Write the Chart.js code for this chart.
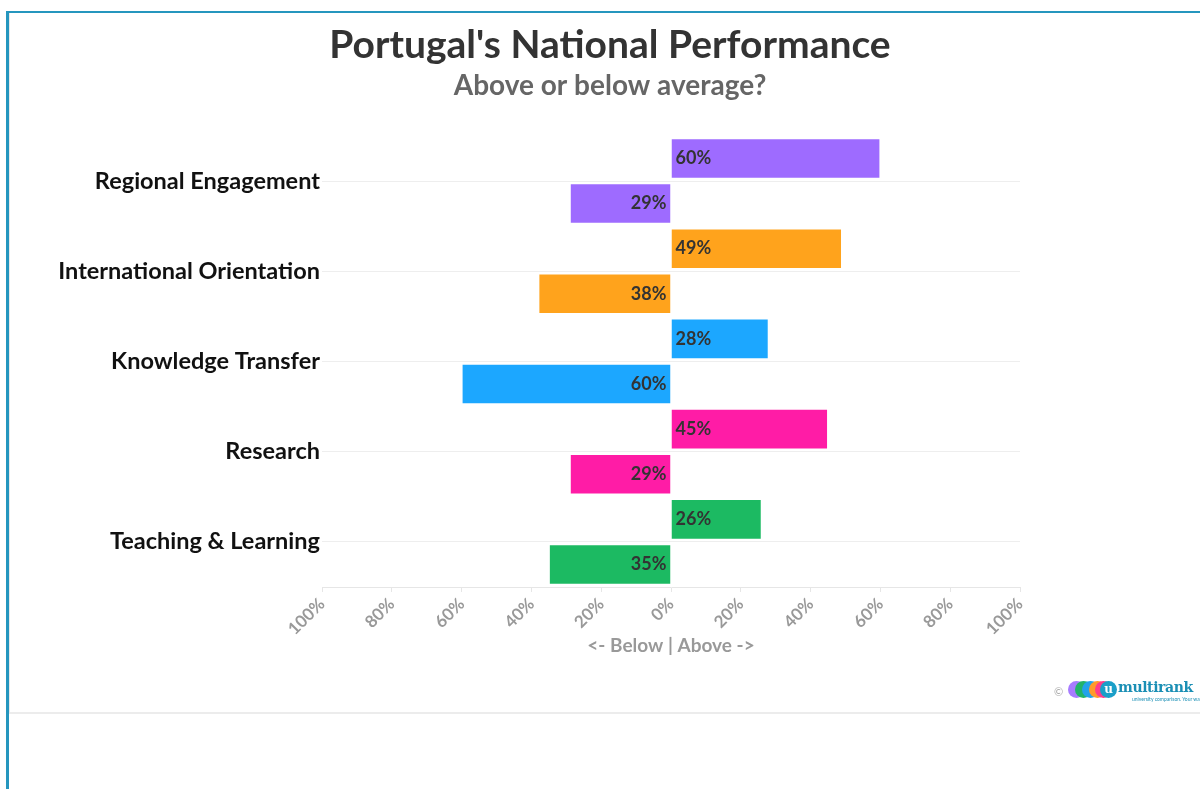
<!DOCTYPE html>
<html>
<head>
<meta charset="utf-8">
<script src="https://cdn.jsdelivr.net/npm/chart.js@4"></script>
<style>
    html, body { margin: 0; padding: 0; background: #fff; overflow: hidden; }
    body { width: 1200px; height: 789px; position: relative; font-family: Lato, sans-serif; }
    .frame {
        position: absolute; left: 6px; top: 11px; width: 1300px; height: 800px;
        border-left: 3px solid #2596be; border-top: 2px solid #2596be;
    }
    .inner {
        position: absolute; left: 9px; top: 13px; width: 1300px; height: 699px;
        border-left: 1px solid #e8e8e8; border-bottom: 2px solid #ececec;
    }
    .chart-box { position: absolute; left: 10px; top: 13px; width: 1200px; height: 700px; }
    .logo { position: absolute; left: 1054px; top: 679px; height: 22px; width: 150px; }
    .logo .copy { position: absolute; left: 0; top: 6px; font-size: 11px; color: #aaa; }
    .logo .dot { position: absolute; top: 2px; width: 17px; height: 17px; border-radius: 50%; }
    .logo .word {
        position: absolute; left: 64px; top: 0px; font-family: "DejaVu Serif", serif;
        font-weight: bold; font-size: 14px; color: #1b8fb5; letter-spacing: -0.4px;
    }
    .logo .tag { position: absolute; left: 78px; top: 17px; font-size: 5px; color: #1b8fb5; white-space: nowrap; }
</style>
</head>
<body>
<div class="frame"></div>
<div class="inner"></div>
<div class="chart-box"><canvas id="bars"></canvas></div>
<div class="logo">
    <span class="copy">©</span>
    <span class="dot" style="left:14px;background:#a77bff"></span>
    <span class="dot" style="left:21px;background:#22b36a"></span>
    <span class="dot" style="left:28px;background:#22a2ea"></span>
    <span class="dot" style="left:35px;background:#ff9a2a"></span>
    <span class="dot" style="left:41px;background:#ff3d8a"></span>
    <span class="dot" style="left:46px;background:#1b9fc8;color:#fff;font:bold 12px 'DejaVu Serif';text-align:center;line-height:17px">u</span>
    <span class="word">multirank</span>
    <span class="tag">university comparison. Your way.</span>
</div>
<script>
    "use strict";

    const categories = [
        "Regional Engagement",
        "International Orientation",
        "Knowledge Transfer",
        "Research",
        "Teaching & Learning",
    ];
    const aboveValues = [60, 49, 28, 45, 26];
    const belowValues = [-29, -38, -60, -29, -35];
    const barColors = ["#9e6bff", "#ffa31c", "#1ca7ff", "#ff1ca6", "#1cba62"];
    const xTicks = [-100, -80, -60, -40, -20, 0, 20, 40, 60, 80, 100];

    Chart.defaults.font.family = "Lato, 'Noto Sans', sans-serif";

    // labels drawn at the base of each bar
    const baseLabels = {
        id: "baseLabels",
        afterDatasetsDraw(chart) {
            const ctx = chart.ctx;
            ctx.save();
            ctx.font = "bold 18px Lato, sans-serif";
            ctx.fillStyle = "#333333";
            ctx.textBaseline = "middle";
            chart.data.datasets.forEach((ds, i) => {
                chart.getDatasetMeta(i).data.forEach((bar, j) => {
                    const v = ds.data[j];
                    const text = Math.abs(v) + "%";
                    if (v >= 0) {
                        ctx.textAlign = "left";
                        ctx.fillText(text, bar.base + 4, bar.y);
                    } else {
                        ctx.textAlign = "right";
                        ctx.fillText(text, bar.base - 4, bar.y);
                    }
                });
            });
            ctx.restore();
        },
    };

    new Chart(document.getElementById("bars"), {
        type: "bar",
        data: {
            labels: categories,
            datasets: [
                {
                    label: "Above",
                    data: aboveValues,
                    backgroundColor: barColors,
                    borderColor: "rgba(255,255,255,0.3)",
                    borderWidth: 1,
                },
                {
                    label: "Below",
                    data: belowValues,
                    backgroundColor: barColors,
                    borderColor: "rgba(255,255,255,0.3)",
                    borderWidth: 1,
                },
            ],
        },
        options: {
            indexAxis: "y",
            responsive: true,
            maintainAspectRatio: false,
            animation: false,
            datasets: {
                bar: {
                    barPercentage: 0.9,
                    categoryPercentage: 1,
                },
            },
            layout: {
                padding: { left: 0, right: 0, bottom: 56, top: 0 },
            },
            plugins: {
                legend: { display: false },
                tooltip: { enabled: false },
                title: {
                    display: true,
                    text: "Portugal's National Performance",
                    color: "#333333",
                    font: { size: 39, weight: "bold" },
                    padding: { top: 9, bottom: 0 },
                },
                subtitle: {
                    display: true,
                    text: "Above or below average?",
                    color: "#666666",
                    font: { size: 28, weight: "bold" },
                    padding: { top: 0, bottom: 33.5 },
                },
            },
            scales: {
                x: {
                    min: -100,
                    max: 100,
                    afterBuildTicks: (scale) => {
                        scale.ticks = xTicks.map((v) => ({ value: v }));
                    },
                    ticks: {
                        color: "#999999",
                        font: { size: 17, weight: "bold" },
                        minRotation: 45,
                        maxRotation: 45,
                        padding: 2,
                        callback: (v) => Math.abs(v) + "%",
                    },
                    grid: {
                        drawOnChartArea: false,
                        drawTicks: true,
                        tickLength: 5,
                        color: "#e6e6e6",
                    },
                    border: { display: true, color: "#e6e6e6" },
                    title: {
                        display: true,
                        text: "<- Below | Above ->",
                        color: "#999999",
                        font: { size: 19, weight: "bold" },
                        padding: { top: 2, bottom: 0 },
                    },
                    afterFit: (scale) => {
                        scale.height = 70;
                    },
                },
                y: {
                    ticks: {
                        color: "#111111",
                        font: { size: 23.5, weight: "bold" },
                        padding: 2,
                    },
                    grid: {
                        offset: false,
                        drawTicks: false,
                        color: "#eeeeee",
                    },
                    border: { display: false },
                    afterFit: (scale) => {
                        scale.width = 312;
                    },
                },
                // empty right-hand axis, only reserves the blank strip on the right
                spacer: {
                    type: "linear",
                    position: "right",
                    ticks: { display: false },
                    grid: { display: false },
                    border: { display: false },
                    afterFit: (scale) => {
                        scale.width = 190;
                    },
                },
            },
        },
        plugins: [baseLabels],
    });
</script>
</body>
</html>
